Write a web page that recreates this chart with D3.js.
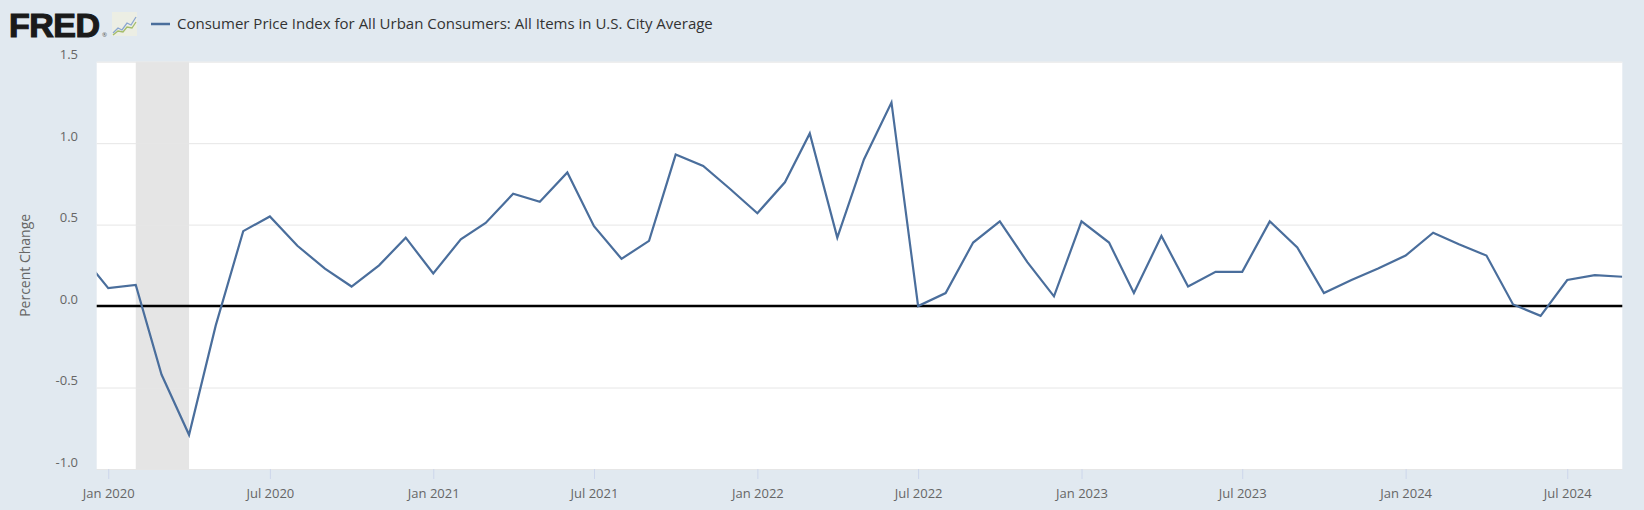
<!DOCTYPE html>
<html>
<head>
<meta charset="utf-8">
<script src="https://cdn.jsdelivr.net/npm/d3@7"></script>
<style>
 body { margin: 0; background: #e1e9f0; }
 svg { display: block; font-family: 'Open Sans', sans-serif; }
 .ylab text, .xlab text { fill: #666; font-size: 13px; }
</style>
</head>
<body>
<svg></svg>
<script>

// Monthly percent change.

var months = ['2019-12',
 '2020-01','2020-02','2020-03','2020-04','2020-05','2020-06','2020-07','2020-08','2020-09','2020-10','2020-11','2020-12',
 '2021-01','2021-02','2021-03','2021-04','2021-05','2021-06','2021-07','2021-08','2021-09','2021-10','2021-11','2021-12',
 '2022-01','2022-02','2022-03','2022-04','2022-05','2022-06','2022-07','2022-08','2022-09','2022-10','2022-11','2022-12',
 '2023-01','2023-02','2023-03','2023-04','2023-05','2023-06','2023-07','2023-08','2023-09','2023-10','2023-11','2023-12',
 '2024-01','2024-02','2024-03','2024-04','2024-05','2024-06','2024-07','2024-08','2024-09'];

var values = [0.32,
 0.11, 0.13, -0.42, -0.79, -0.12, 0.46, 0.55, 0.37, 0.23, 0.12, 0.25, 0.42,
 0.20, 0.41, 0.51, 0.69, 0.64, 0.82, 0.49, 0.29, 0.40, 0.93, 0.86, 0.72,
 0.57, 0.76, 1.06, 0.42, 0.90, 1.25, 0.00, 0.08, 0.39, 0.52, 0.27, 0.06,
 0.52, 0.39, 0.08, 0.43, 0.12, 0.21, 0.21, 0.52, 0.36, 0.08, 0.16, 0.23,
 0.31, 0.45, 0.38, 0.31, 0.01, -0.06, 0.16, 0.19, 0.18];

var recession = ['2020-02', '2020-04'];
var yTicks = [-1.0, -0.5, 0.0, 0.5, 1.0, 1.5];
var xTicks = ['2020-01','2020-07','2021-01','2021-07','2022-01','2022-07','2023-01','2023-07','2024-01','2024-07'];
var seriesName = 'Consumer Price Index for All Urban Consumers: All Items in U.S. City Average';
var yTitle = 'Percent Change';

var parse = d3.timeParse('%Y-%m');
var data = months.map(function(m, i) { return {date: parse(m), value: values[i]}; });

// Basic svg and plot box.

var W = 1644, H = 510;
var margin = {top: 61.7, right: 21.7, bottom: 41, left: 96.7};
var width = W - margin.left - margin.right;
var height = H - margin.top - margin.bottom;

var svg = d3.select('svg').attr('width', W).attr('height', H);
svg.append('rect').attr('width', W).attr('height', H).attr('fill', '#e1e9f0');

var graphic = svg.append('g').attr('transform', 'translate(' + margin.left + ',' + margin.top + ')');

// Scales. The x range starts a little before Jan 2020, like the original.

var x = d3.scaleTime()
 .domain([new Date(2019, 11, 19), new Date(2024, 8, 1)])
 .range([0, width]);

var y = d3.scaleLinear()
 .domain([-1, 1.5])
 .range([height, 0]);

graphic.append('rect').attr('width', width).attr('height', height).attr('fill', '#fff');

// Recession band.

graphic.append('rect')
 .attr('x', x(parse(recession[0])))
 .attr('y', 0)
 .attr('width', x(parse(recession[1])) - x(parse(recession[0])))
 .attr('height', height)
 .attr('fill', '#e5e5e5');

// Grid lines and y labels (plain hyphen for the minus, as in the original).

var grid = graphic.append('g')
 .call(d3.axisLeft(y).tickValues(yTicks).tickSize(-width).tickFormat(''));
grid.select('.domain').remove();
grid.selectAll('line').attr('stroke', '#e6e6e6');

var fmt = function(d) { return d3.format('.1f')(d).replace('\u2212', '-'); };

var ylab = graphic.append('g')
 .attr('class', 'ylab')
 .call(d3.axisLeft(y).tickValues(yTicks).tickSize(0).tickPadding(18.7).tickFormat(fmt));
ylab.select('.domain').remove();
ylab.selectAll('text').attr('dy', '-3px').style('font-family', 'Open Sans');

// X ticks and labels.

var xlab = graphic.append('g')
 .attr('class', 'xlab')
 .attr('transform', 'translate(0,' + height + ')')
 .call(d3.axisBottom(x).tickValues(xTicks.map(parse)).tickSize(10).tickPadding(10).tickFormat(d3.timeFormat('%b %Y')));
xlab.select('.domain').remove();
xlab.selectAll('line').attr('stroke', '#ccd6eb');
xlab.selectAll('text').attr('dy', '0.71em').style('font-family', 'Open Sans');

// Zero line.

graphic.append('line')
 .attr('x1', 0).attr('x2', width)
 .attr('y1', y(0)).attr('y2', y(0))
 .attr('stroke', '#000')
 .attr('stroke-width', 2.5);

// The series, clipped to the plot box.

graphic.append('clipPath').attr('id', 'clip')
 .append('rect').attr('width', width).attr('height', height);

var line = d3.line()
 .x(function(d) { return x(d.date); })
 .y(function(d) { return y(d.value); });

graphic.append('path')
 .datum(data)
 .attr('clip-path', 'url(#clip)')
 .attr('d', line)
 .attr('fill', 'none')
 .attr('stroke', '#4a6e9c')
 .attr('stroke-width', 2.2)
 .attr('stroke-linejoin', 'miter');

// Y axis title.

svg.append('text')
 .attr('transform', 'translate(30,' + (margin.top + y(0.25)) + ') rotate(-90)')
 .attr('text-anchor', 'middle')
 .attr('fill', '#666')
 .style('font-size', '14px')
 .text(yTitle);

// Header: logo, small icon and legend.

svg.append('text')
 .attr('x', 9).attr('y', 36.5)
 .style('font-family', "'Liberation Sans', Arial, sans-serif")
 .style('font-weight', 'bold')
 .style('font-size', '34px')
 .attr('fill', '#1a1a1a')
 .attr('stroke', '#1a1a1a')
 .attr('stroke-width', 1.2)
 .attr('letter-spacing', '-0.5px')
 .text('FRED');

svg.append('text')
 .attr('x', 102).attr('y', 37)
 .style('font-size', '6px')
 .attr('fill', '#555')
 .text('\u00ae');

var icon = svg.append('g').attr('transform', 'translate(112,12)');
icon.append('rect').attr('width', 25).attr('height', 24).attr('fill', '#eceee4');
icon.append('polyline')
 .attr('points', '1,21 6,16 10,18 15,11 19,13 24,5')
 .attr('fill', 'none').attr('stroke', '#8aa6d0').attr('stroke-width', 1.3);
icon.append('polyline')
 .attr('points', '1,23 6,19 11,20 15,15 20,16 24,10')
 .attr('fill', 'none').attr('stroke', '#a4bd6a').attr('stroke-width', 1.3);

svg.append('line')
 .attr('x1', 151).attr('x2', 170)
 .attr('y1', 24).attr('y2', 24)
 .attr('stroke', '#4a6e9c')
 .attr('stroke-width', 2.5);

svg.append('text')
 .attr('x', 177).attr('y', 29)
 .attr('fill', '#333')
 .style('font-size', '15px')
 .text(seriesName);

</script>
</body>
</html>
